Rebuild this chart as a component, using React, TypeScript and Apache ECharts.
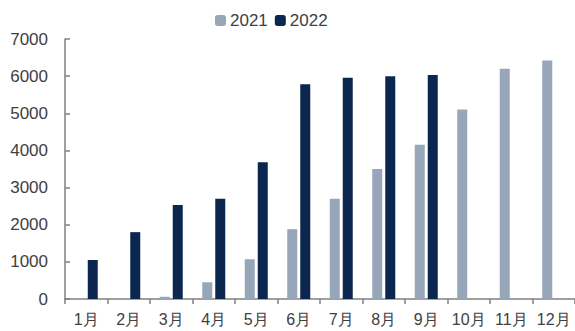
import React, { useEffect, useRef } from "react";
import * as echarts from "echarts";

const categories = ["1月", "2月", "3月", "4月", "5月", "6月", "7月", "8月", "9月", "10月", "11月", "12月"];
const series2021 = [0, 0, 60, 450, 1070, 1880, 2700, 3500, 4150, 5100, 6200, 6420];
const series2022 = [1050, 1800, 2530, 2700, 3680, 5780, 5960, 6000, 6030, null, null, null];
const yTicks = { min: 0, max: 7000, interval: 1000 };

export default function App() {
  const ref = useRef<HTMLDivElement>(null);
  useEffect(() => {
    if (!ref.current) return;
    const chart = echarts.init(ref.current, null, { renderer: "svg" });
    const font = "Liberation Sans, Arial, sans-serif";
    chart.setOption({
      animation: false,
      textStyle: { fontFamily: font },
      legend: {
        top: 7,
        left: 210,
        itemWidth: 11,
        itemHeight: 11,
        itemGap: 7,
        textStyle: { fontSize: 17, color: "#404040", fontFamily: font, padding: [0, 0, 0, -1] },
        data: ["2021", "2022"],
      },
      grid: { left: 65, right: 0, top: 39, bottom: 32, containLabel: false },
      xAxis: {
        type: "category",
        data: categories,
        boundaryGap: true,
        axisLine: { lineStyle: { color: "#808080", width: 1.5 } },
        axisTick: { show: true, length: 5, alignWithLabel: false, lineStyle: { color: "#808080", width: 1.5 } },
        axisLabel: { fontSize: 16, color: "#404040", margin: 12, fontFamily: font, interval: 0 },
      },
      yAxis: {
        type: "value",
        min: yTicks.min,
        max: yTicks.max,
        interval: yTicks.interval,
        splitLine: { show: false },
        axisLine: { show: true, lineStyle: { color: "#808080", width: 1.5 } },
        axisTick: { show: true, inside: true, length: 5, lineStyle: { color: "#808080", width: 1.5 } },
        axisLabel: { fontSize: 17, color: "#404040", margin: 17, fontFamily: font, formatter: (v: number) => String(v) },
      },
      series: [
        {
          name: "2021",
          type: "bar",
          data: series2021,
          barWidth: 10,
          barGap: "30%",
          itemStyle: { color: "#97A6B8" },
        },
        {
          name: "2022",
          type: "bar",
          data: series2022,
          barWidth: 10,
          itemStyle: { color: "#0B2750" },
        },
      ],
    });
    return () => chart.dispose();
  }, []);
  return <div ref={ref} style={{ position: "absolute", left: 0, top: 0, width: 575, height: 331 }} />;
}
